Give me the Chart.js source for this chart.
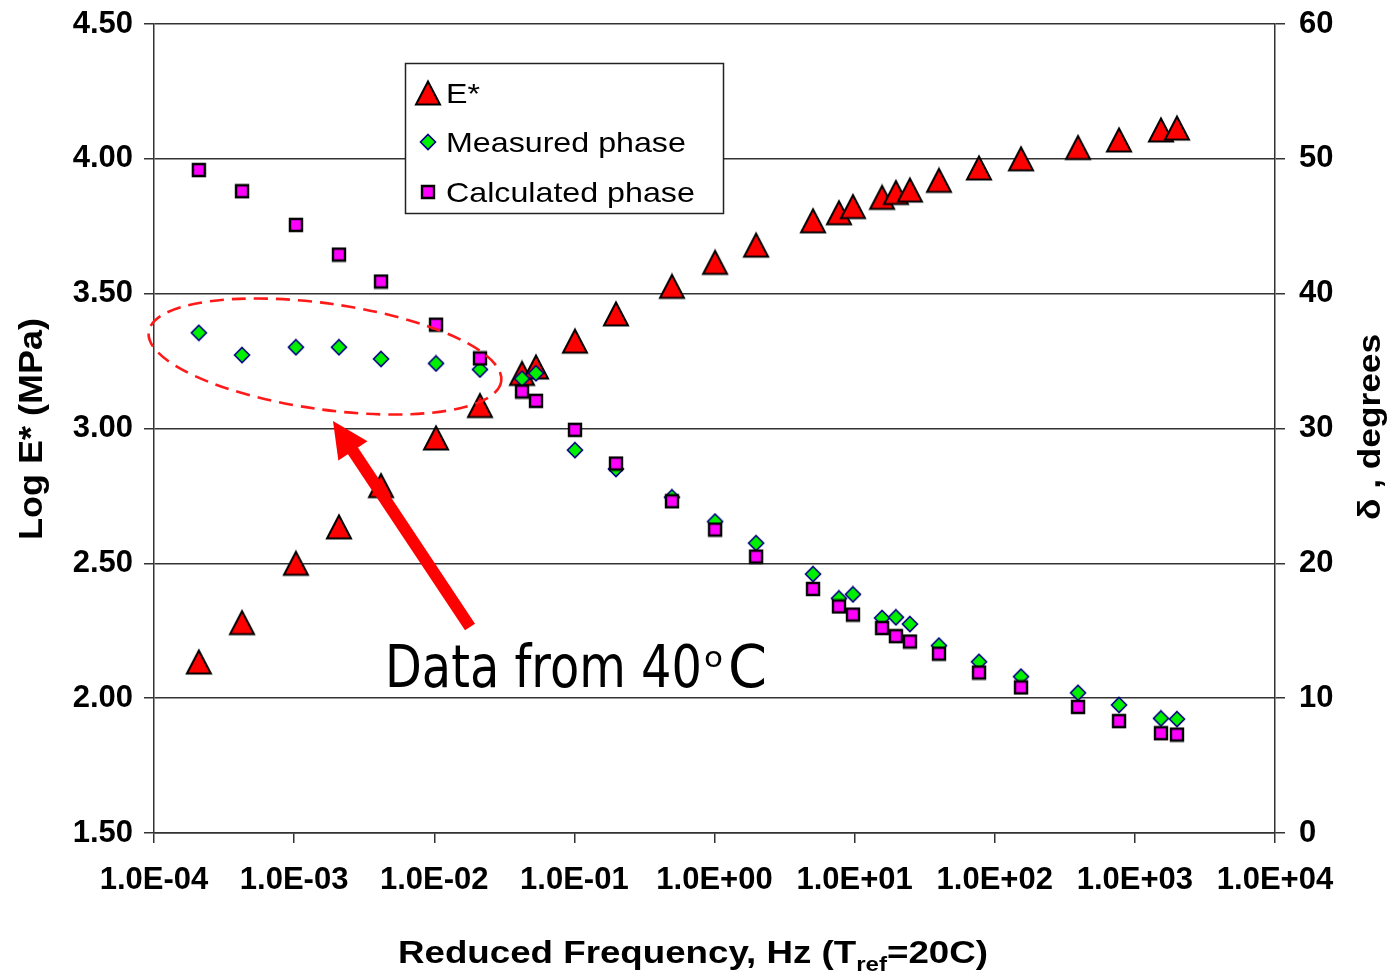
<!DOCTYPE html>
<html><head><meta charset="utf-8">
<script src="https://cdn.jsdelivr.net/npm/chart.js@4.4.1/dist/chart.umd.min.js"></script>
<style>html,body{margin:0;padding:0;background:#fff;}canvas{display:block;}</style>
</head><body>
<canvas id="c" width="1395" height="974"></canvas>
<script>
// ---- data ----
const frequency = [2.09e-4, 4.25e-4, 1.03e-3, 2.09e-3, 4.17e-3, 1.03e-2, 2.12e-2, 4.23e-2, 5.32e-2, 0.101, 0.198, 0.497, 1.01, 1.98, 5.05, 7.73, 9.73, 15.7, 19.7, 24.8, 40.0, 77.2, 154, 393, 771, 1536, 1997];
const logEstar = [2.134, 2.28, 2.50, 2.635, 2.788, 2.965, 3.085, 3.204, 3.228, 3.324, 3.425, 3.527, 3.616, 3.68, 3.77, 3.80, 3.823, 3.857, 3.875, 3.884, 3.92, 3.966, 4.00, 4.042, 4.07, 4.107, 4.114];
const measuredPhase = [37.1, 35.45, 36.03, 36.03, 35.16, 34.83, 34.38, 33.7, 34.1, 28.4, 27.0, 24.9, 23.1, 21.5, 19.2, 17.4, 17.7, 15.95, 16.0, 15.5, 13.9, 12.7, 11.6, 10.4, 9.5, 8.5, 8.45];
const calculatedPhase = [49.17, 47.6, 45.1, 42.9, 40.9, 37.7, 35.2, 32.74, 32.05, 29.9, 27.4, 24.6, 22.5, 20.5, 18.1, 16.8, 16.2, 15.2, 14.6, 14.2, 13.3, 11.9, 10.8, 9.35, 8.3, 7.4, 7.3];
const seriesNames = ['E*', 'Measured phase', 'Calculated phase'];
const xTickValues = [1e-4, 1e-3, 1e-2, 1e-1, 1e0, 1e1, 1e2, 1e3, 1e4];
const xTickLabels = ['1.0E-04', '1.0E-03', '1.0E-02', '1.0E-01', '1.0E+00', '1.0E+01', '1.0E+02', '1.0E+03', '1.0E+04'];
const yTickValues = [1.5, 2.0, 2.5, 3.0, 3.5, 4.0, 4.5];
const yTickLabels = ['1.50', '2.00', '2.50', '3.00', '3.50', '4.00', '4.50'];
const y2TickValues = [0, 10, 20, 30, 40, 50, 60];
const y2TickLabels = ['0', '10', '20', '30', '40', '50', '60'];
const xTitle = ['Reduced Frequency, Hz (T', 'ref', '=20C)'];
const yTitle = 'Log E* (MPa)';
const y2Title = 'δ , degrees';
const noteText = ['Data from 40', 'o', 'C'];
// annotation anchors (data units)
const ellipseCenter = {x: 1.66e-3, y: 3.267};
const arrowTip = {x: 1.894e-3, y: 3.028};
const arrowTail = {x: 0.018, y: 2.264};
const noteAnchor = {x: 4.45e-3, y: 2.041};

// ---- marker images ----
function mk(w, h) { const c = document.createElement('canvas'); c.width = w; c.height = h; return c; }
const triImg = (() => { const c = mk(28, 28), g = c.getContext('2d');
  g.beginPath(); g.moveTo(14, 2.5); g.lineTo(26, 25.5); g.lineTo(2, 25.5); g.closePath();
  g.fillStyle = '#FF0000'; g.fill(); g.lineWidth = 2; g.strokeStyle = '#000'; g.stroke(); return c; })();
const diaImg = (() => { const c = mk(18, 18), g = c.getContext('2d');
  g.beginPath(); g.moveTo(9, 1.5); g.lineTo(16.5, 9); g.lineTo(9, 16.5); g.lineTo(1.5, 9); g.closePath();
  g.fillStyle = '#00F000'; g.fill(); g.lineWidth = 1.6; g.strokeStyle = '#000080'; g.stroke(); return c; })();
const sqImg = (() => { const c = mk(16, 16), g = c.getContext('2d');
  g.beginPath(); g.rect(2, 2, 12, 12);
  g.fillStyle = '#FF00FF'; g.fill(); g.lineWidth = 2.4; g.strokeStyle = '#000'; g.stroke(); return c; })();

const tickFont = {family: 'Liberation Sans, Arial, sans-serif', size: 31, weight: 'bold'};
const lineCol = '#333';

function fitText(ctx, text, x, y, targetW, font, align) {
  ctx.save(); ctx.font = font;
  const w = ctx.measureText(text).width;
  ctx.translate(x, y); ctx.scale(targetW / w, 1);
  ctx.textAlign = align || 'left'; ctx.textBaseline = 'alphabetic';
  ctx.fillText(text, 0, 0); ctx.restore();
}
function noPad(sc) { sc.paddingTop = 0; sc.paddingBottom = 0; sc.paddingLeft = 0; sc.paddingRight = 0; }

const decor = {
  id: 'decor',
  afterDatasetsDraw(chart) {
    const ctx = chart.ctx, xs = chart.scales.x, ys = chart.scales.y;
    const px = v => xs.getPixelForValue(v), py = v => ys.getPixelForValue(v);
    // dashed ellipse
    ctx.save();
    ctx.strokeStyle = '#FF1a1a'; ctx.lineWidth = 2.6; ctx.setLineDash([14, 8]);
    ctx.beginPath(); ctx.ellipse(px(ellipseCenter.x), py(ellipseCenter.y), 178, 53, 8 * Math.PI / 180, 0, Math.PI * 2); ctx.stroke();
    ctx.restore();
    // arrow
    const tx = px(arrowTip.x), ty = py(arrowTip.y), sx = px(arrowTail.x), sy = py(arrowTail.y);
    const L = Math.hypot(tx - sx, ty - sy), ux = (tx - sx) / L, uy = (ty - sy) / L;
    const bx = tx - ux * 36, by = ty - uy * 36, nx = -uy, ny = ux;
    ctx.save(); ctx.strokeStyle = '#FF0000'; ctx.fillStyle = '#FF0000';
    ctx.lineWidth = 12; ctx.lineCap = 'butt';
    ctx.beginPath(); ctx.moveTo(sx, sy); ctx.lineTo(tx - ux * 30, ty - uy * 30); ctx.stroke();
    ctx.beginPath(); ctx.moveTo(tx, ty); ctx.lineTo(bx + nx * 17.5, by + ny * 17.5); ctx.lineTo(bx - nx * 17.5, by - ny * 17.5); ctx.closePath(); ctx.fill();
    ctx.restore();
    // note text
    const nx0 = px(noteAnchor.x), ny0 = py(noteAnchor.y);
    ctx.save(); ctx.fillStyle = '#000';
    fitText(ctx, noteText[0], nx0, ny0, 317, '58px "DejaVu Sans", sans-serif');
    fitText(ctx, noteText[1], nx0 + 319, ny0 - 20, 19, '28px "DejaVu Sans", sans-serif');
    fitText(ctx, noteText[2], nx0 + 343, ny0, 39, '58px "DejaVu Sans", sans-serif');
    ctx.restore();
  },
  afterDraw(chart) {
    const ctx = chart.ctx, a = chart.chartArea;
    // legend
    ctx.save();
    const lx = a.left + 251.5, ly = a.top + 39.5;
    ctx.fillStyle = '#fff'; ctx.fillRect(lx, ly, 318, 150);
    ctx.strokeStyle = '#222'; ctx.lineWidth = 1.5; ctx.strokeRect(lx, ly, 318, 150);
    const imgs = [triImg, diaImg, sqImg];
    const rowY = [a.top + 69, a.top + 118, a.top + 168];
    const base = [a.top + 79, a.top + 128, a.top + 178];
    ctx.fillStyle = '#000';
    for (let i = 0; i < 3; i++) {
      const im = imgs[i];
      ctx.drawImage(im, a.left + 274 - im.width / 2, rowY[i] - im.height / 2);
      ctx.font = '28px "Liberation Sans", Arial, sans-serif';
      const w = ctx.measureText(seriesNames[i]).width;
      fitText(ctx, seriesNames[i], a.left + 292, base[i], w * 1.15, '28px "Liberation Sans", Arial, sans-serif');
    }
    ctx.restore();
    // x title
    ctx.save(); ctx.fillStyle = '#000';
    const f1 = 'bold 32px "Liberation Sans", Arial, sans-serif', f2 = 'bold 21px "Liberation Sans", Arial, sans-serif';
    ctx.font = f1; const w1 = ctx.measureText(xTitle[0]).width, w3 = ctx.measureText(xTitle[2]).width;
    ctx.font = f2; const w2 = ctx.measureText(xTitle[1]).width;
    const s = 590 / (w1 + w2 + w3);
    ctx.translate(398, 963); ctx.scale(s, 1);
    ctx.font = f1; ctx.fillText(xTitle[0], 0, 0);
    ctx.font = f2; ctx.fillText(xTitle[1], w1, 8);
    ctx.font = f1; ctx.fillText(xTitle[2], w1 + w2, 0);
    ctx.restore();
    // y titles
    ctx.save(); ctx.fillStyle = '#000';
    ctx.translate(42, 429); ctx.rotate(-Math.PI / 2);
    fitText(ctx, yTitle, 0, 0, 222, 'bold 33px "Liberation Sans", Arial, sans-serif', 'center');
    ctx.restore();
    ctx.save(); ctx.fillStyle = '#000';
    ctx.translate(1380, 427); ctx.rotate(-Math.PI / 2);
    fitText(ctx, y2Title, 0, 0, 186, 'bold 32px "Liberation Sans", Arial, sans-serif', 'center');
    ctx.restore();
  }
};

new Chart(document.getElementById('c').getContext('2d'), {
  type: 'scatter',
  data: {
    datasets: [
      { label: seriesNames[0], data: frequency.map((f, i) => ({x: f, y: logEstar[i]})), yAxisID: 'y', pointStyle: triImg, pointRadius: 12, order: 3 },
      { label: seriesNames[1], data: frequency.map((f, i) => ({x: f, y: measuredPhase[i]})), yAxisID: 'y2', pointStyle: diaImg, pointRadius: 8, order: 2 },
      { label: seriesNames[2], data: frequency.map((f, i) => ({x: f, y: calculatedPhase[i]})), yAxisID: 'y2', pointStyle: sqImg, pointRadius: 8, order: 1 }
    ]
  },
  options: {
    responsive: false, animation: false, devicePixelRatio: 1,
    layout: {padding: {top: 24, left: 0, right: 0, bottom: 0}},
    plugins: {legend: {display: false}, tooltip: {enabled: false}},
    scales: {
      x: {
        type: 'logarithmic', position: 'bottom', min: 1e-4, max: 1e4,
        afterBuildTicks: sc => { sc.ticks = xTickValues.map(v => ({value: v})); },
        afterFit: sc => { sc.height = 141; noPad(sc); },
        ticks: {autoSkip: false, maxRotation: 0, minRotation: 0, padding: 19, color: '#000', font: tickFont, callback: (v, i) => xTickLabels[i]},
        grid: {drawOnChartArea: false, drawTicks: true, tickLength: 10, color: lineCol, lineWidth: 1.5},
        border: {display: true, color: lineCol, width: 1.5}
      },
      y: {
        position: 'left', min: 1.5, max: 4.5,
        afterBuildTicks: sc => { sc.ticks = yTickValues.map(v => ({value: v})); },
        afterFit: sc => { sc.width = 154; noPad(sc); },
        ticks: {padding: 11, color: '#000', font: tickFont, callback: (v, i) => yTickLabels[i]},
        grid: {drawOnChartArea: true, drawTicks: true, tickLength: 10, color: lineCol, lineWidth: 1.5},
        border: {display: true, color: lineCol, width: 1.5}
      },
      y2: {
        position: 'right', min: 0, max: 60,
        afterBuildTicks: sc => { sc.ticks = y2TickValues.map(v => ({value: v})); },
        afterFit: sc => { sc.width = 120; noPad(sc); },
        ticks: {padding: 14, color: '#000', font: tickFont, callback: (v, i) => y2TickLabels[i]},
        grid: {drawOnChartArea: false, drawTicks: true, tickLength: 10, color: lineCol, lineWidth: 1.5},
        border: {display: true, color: lineCol, width: 1.5}
      }
    }
  },
  plugins: [decor]
});
</script>
</body></html>
